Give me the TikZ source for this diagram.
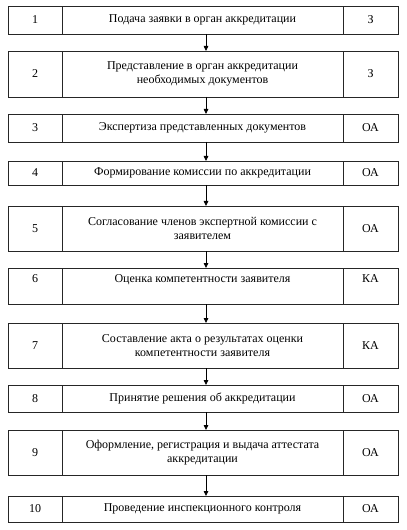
\documentclass[tikz,border=0pt]{standalone}
\usepackage{fontspec}
\setmainfont{Liberation Serif}
\usetikzlibrary{positioning}
\usetikzlibrary{arrows.meta}

\tikzset{
  cell/.style={draw=black!85,line width=0.9bp,inner sep=0pt,outer sep=0pt,
    align=center,font=\fontsize{12bp}{14bp}\selectfont},
  numcell/.style={cell,minimum width=54bp},
  stepcell/.style={cell,minimum width=281bp},
  whocell/.style={cell,minimum width=55bp},
  flow/.style={-{Triangle[length=5bp,width=4.5bp]},line width=0.8bp}
}

\begin{document}
\begin{tikzpicture}[x=1bp,y=-1bp]
  \useasboundingbox (0,0) rectangle (406,530);
  % rows: number / centre y / height / number text / step / who
  \foreach \i/\yc/\h/\num/\txt/\who in {
    1/20/28/1/{Подача заявки в орган аккредитации}/З,
    2/74/46/2/{Представление в орган аккредитации\\необходимых документов}/З,
    3/128/28/3/{Экспертиза представленных документов}/ОА,
    4/173/24/4/{Формирование комиссии по аккредитации}/ОА,
    5/228.5/45/5/{Согласование членов экспертной комиссии с\\заявителем}/ОА,
    6/286/36/{6\\~}/{Оценка компетентности заявителя\\~}/{КА\\~},
    7/345.5/45/7/{Составление акта о результатах оценки\\компетентности заявителя}/КА,
    8/398.5/27/8/{Принятие решения об аккредитации}/ОА,
    9/452.5/45/9/{Оформление, регистрация и выдача аттестата\\аккредитации}/ОА,
    10/509/26/10/{Проведение инспекционного контроля}/ОА}
  {
    \node[numcell,minimum height=\h bp] (n\i) at (35,\yc) {\num};
    \node[stepcell,minimum height=\h bp,right=0pt of n\i] (s\i) {\txt};
    \node[whocell,minimum height=\h bp,right=0pt of s\i] (w\i) {\who};
  }
  % arrows between the steps
  \foreach \a/\b in {1/2,2/3,3/4,4/5,5/6,6/7,7/8,8/9,9/10}
    \draw[flow] ([xshift=3.5bp]s\a.south) -- ([xshift=3.5bp]s\b.north);
\end{tikzpicture}
\end{document}
